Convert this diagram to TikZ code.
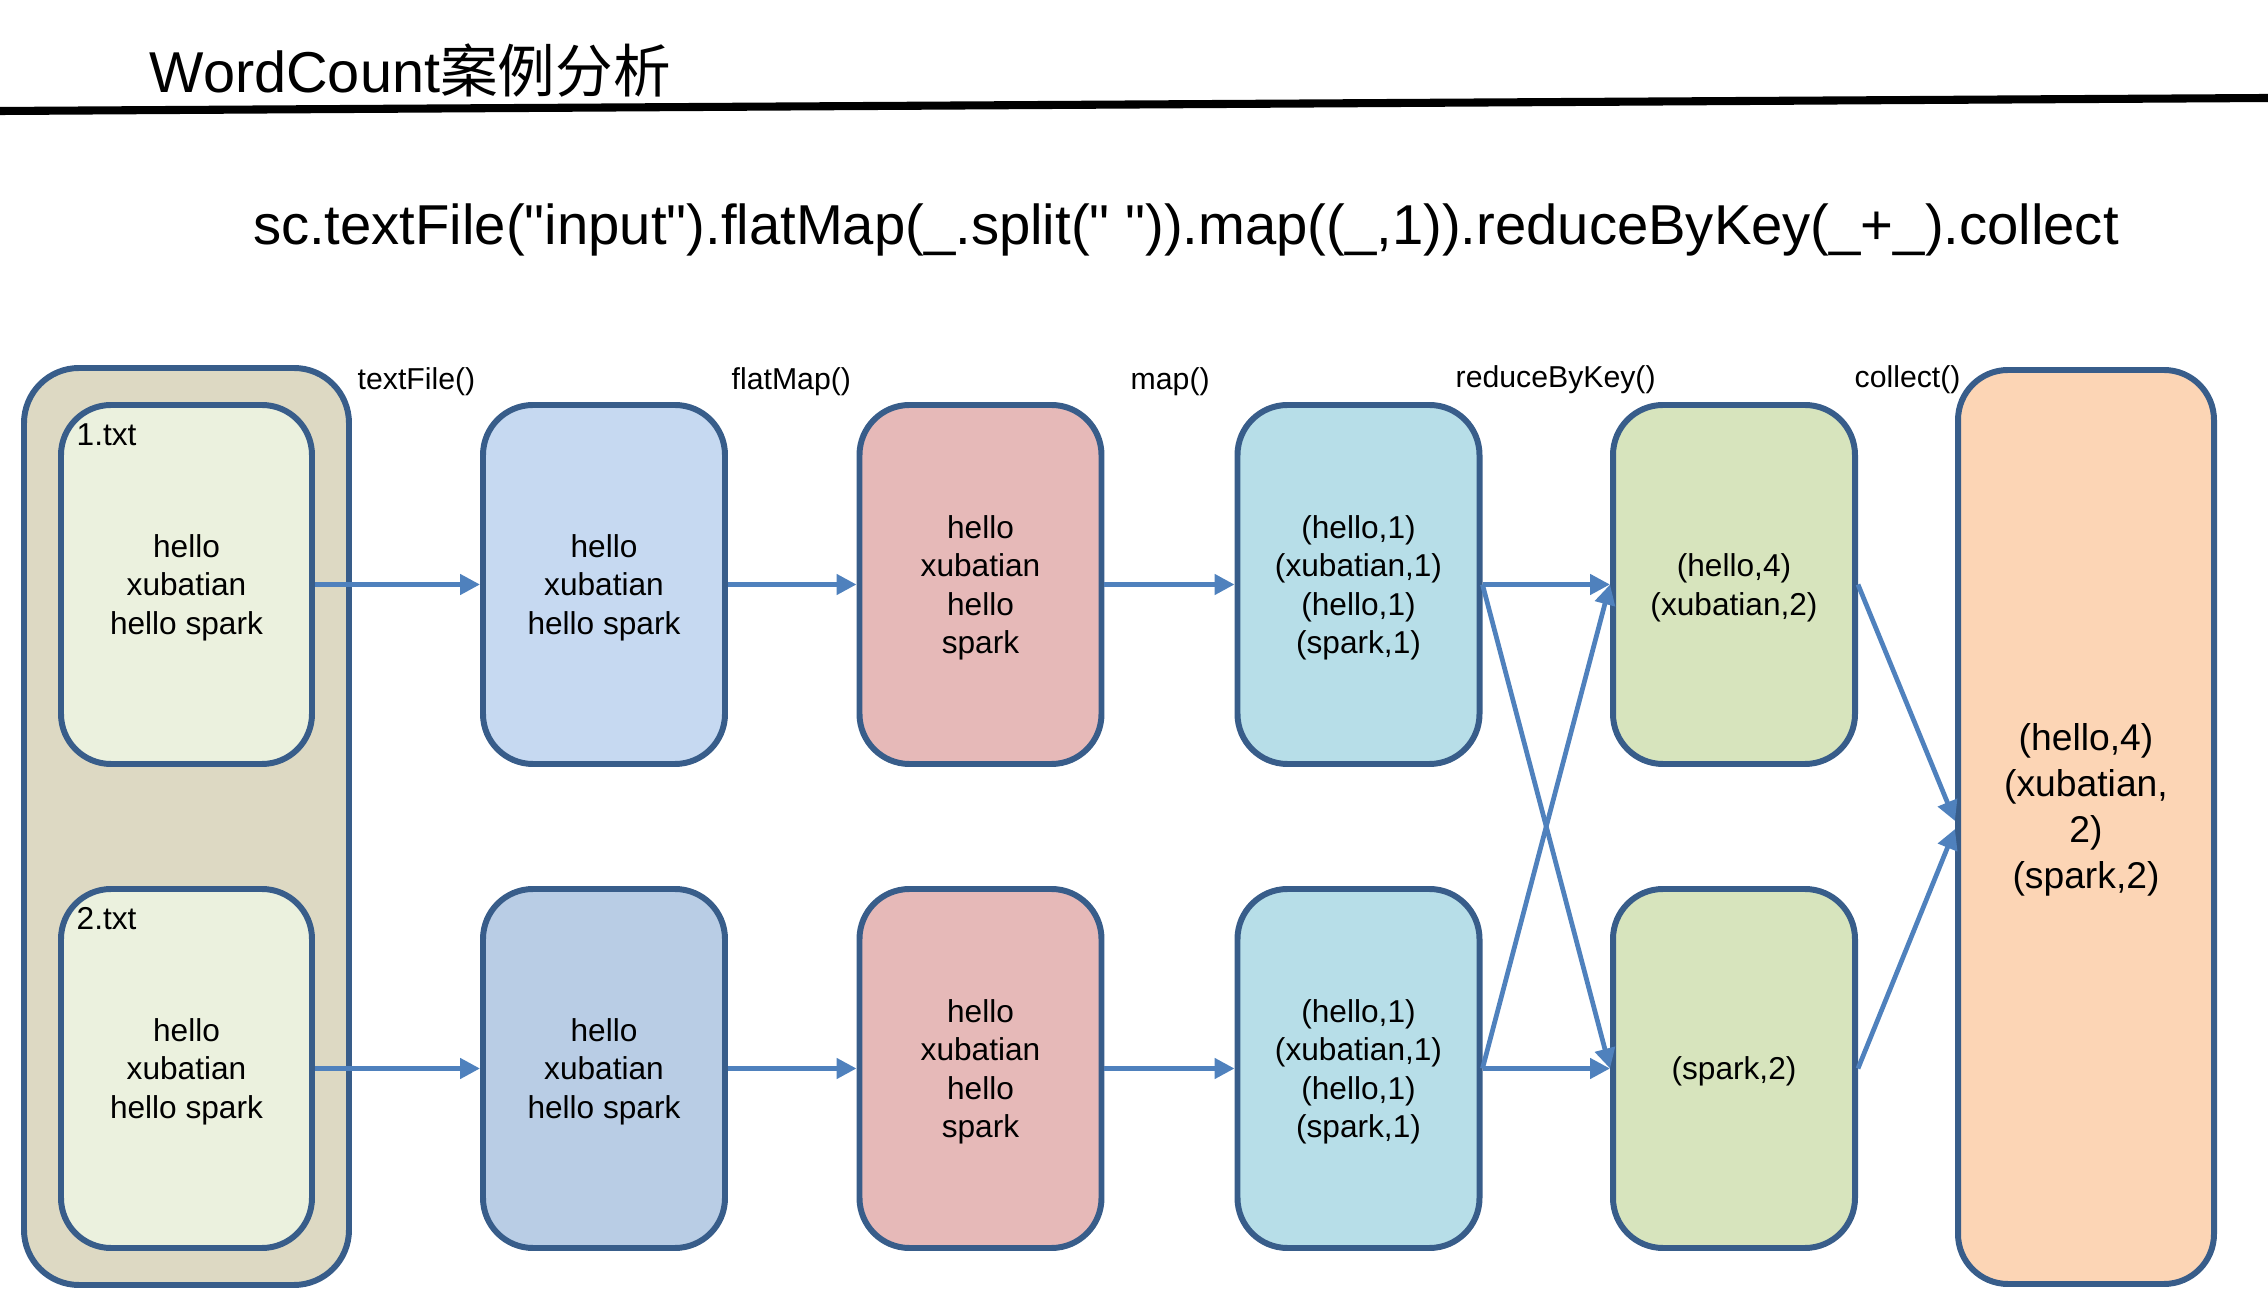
\documentclass[tikz,border=0pt]{standalone}
\usepackage{fontspec}
\setmainfont{Liberation Sans}
\newfontfamily\cjk{Noto Sans CJK SC}
\usepackage{tikz}
\usetikzlibrary{arrows.meta}
\definecolor{rddline}{HTML}{385D8A}
\definecolor{flowblue}{HTML}{4F81BD}
\definecolor{filesbg}{HTML}{DDD9C3}
\definecolor{txtbg}{HTML}{EBF1DE}
\definecolor{tfbgA}{HTML}{C6D9F1}
\definecolor{tfbgB}{HTML}{B9CDE5}
\definecolor{fmbg}{HTML}{E6B9B8}
\definecolor{mpbg}{HTML}{B7DEE8}
\definecolor{rbbg}{HTML}{D7E4BD}
\definecolor{colbg}{HTML}{FCD5B5}
\tikzstyle{rdd}=[rectangle, rounded corners=0.5cm, minimum width=2.42cm, minimum height=3.59cm, text depth=-0.7pt, align=center, draw=rddline, line width=1.7pt, font=\fontsize{9}{10.9}\selectfont]
\tikzstyle{flow}=[-{Triangle[length=0.2cm, width=0.2cm]}, draw=flowblue, line width=1.35pt]
\tikzstyle{stage}=[anchor=base west, inner sep=0pt, font=\fontsize{8.6}{10}\selectfont]

\begin{document}
\begin{tikzpicture}
\useasboundingbox (0,0) rectangle (22.68,13.10);
\node[anchor=base west, inner sep=0pt, font=\fontsize{16.4}{20}\selectfont] (title) at (1.49,12.17) {WordCount{\cjk 案例分析}};
\draw[line width=2.3pt] (0,11.99) -- (22.68,12.12);
\node[anchor=base, inner sep=0pt, font=\fontsize{16}{20}\selectfont] (code) at (11.86,10.65) {sc.textFile(\textquotedbl input\textquotedbl).flatMap(\_.split(\textquotedbl\ \textquotedbl)).map((\_,1)).reduceByKey(\_+\_).collect};

% input files
\node[rdd, rounded corners=0.55cm, minimum width=3.25cm, minimum height=9.17cm, fill=filesbg] (input) at (1.865,4.835) {};
\node[rdd, minimum width=2.51cm, fill=txtbg] (txt1) at (1.865,7.255) {hello\\xubatian\\hello spark};
\node[rdd, minimum width=2.51cm, fill=txtbg] (txt2) at (1.865,2.415) {hello\\xubatian\\hello spark};
\node[anchor=west, inner sep=0pt, font=\fontsize{9}{10.8}\selectfont] (name1) at ([xshift=0.18cm,yshift=-0.33cm]txt1.north west) {1.txt};
\node[anchor=west, inner sep=0pt, font=\fontsize{9}{10.8}\selectfont] (name2) at ([xshift=0.18cm,yshift=-0.33cm]txt2.north west) {2.txt};

% rdds
\node[rdd, fill=tfbgA] (tf1) at (6.04,7.255) {hello\\xubatian\\hello spark};
\node[rdd, fill=tfbgB] (tf2) at (6.04,2.415) {hello\\xubatian\\hello spark};
\node[rdd, fill=fmbg] (fm1) at (9.805,7.255) {hello\\xubatian\\hello\\spark};
\node[rdd, fill=fmbg] (fm2) at (9.805,2.415) {hello\\xubatian\\hello\\spark};
\node[rdd, fill=mpbg] (mp1) at (13.585,7.255) {(hello,1)\\(xubatian,1)\\(hello,1)\\(spark,1)};
\node[rdd, fill=mpbg] (mp2) at (13.585,2.415) {(hello,1)\\(xubatian,1)\\(hello,1)\\(spark,1)};
\node[rdd, fill=rbbg] (rb1) at (17.34,7.255) {(hello,4)\\(xubatian,2)};
\node[rdd, fill=rbbg] (rb2) at (17.34,2.415) {(spark,2)};
\node[rdd, minimum width=2.56cm, minimum height=9.14cm, fill=colbg] (col) at (20.86,4.83) {};
\node[align=center, font=\fontsize{10.6}{13.1}\selectfont] (coltext) at ([yshift=0.17cm]col.center) {(hello,4)\\(xubatian,\\2)\\(spark,2)};

% operators
\node[stage] (ltext) at (3.57,9.20) {textFile()};
\node[stage] (lflat) at (7.31,9.20) {flatMap()};
\node[stage] (lmap) at (11.30,9.20) {map()};
\node[stage] (lreduce) at (14.55,9.22) {reduceByKey()};
\node[stage] (lcollect) at (18.54,9.22) {collect()};

\draw[flow] (txt1) -- (tf1);
\draw[flow] (txt2) -- (tf2);
\draw[flow] (tf1) -- (fm1);
\draw[flow] (tf2) -- (fm2);
\draw[flow] (fm1) -- (mp1);
\draw[flow] (fm2) -- (mp2);
\draw[flow] (mp1.east) -- (rb1.west);
\draw[flow] (mp1.east) -- (rb2.west);
\draw[flow] (mp2.east) -- (rb1.west);
\draw[flow] (mp2.east) -- (rb2.west);
\draw[flow] (rb1.east) -- ([yshift=0.06cm]col.west);
\draw[flow] (rb2.east) -- ([yshift=-0.02cm]col.west);
\end{tikzpicture}
\end{document}
